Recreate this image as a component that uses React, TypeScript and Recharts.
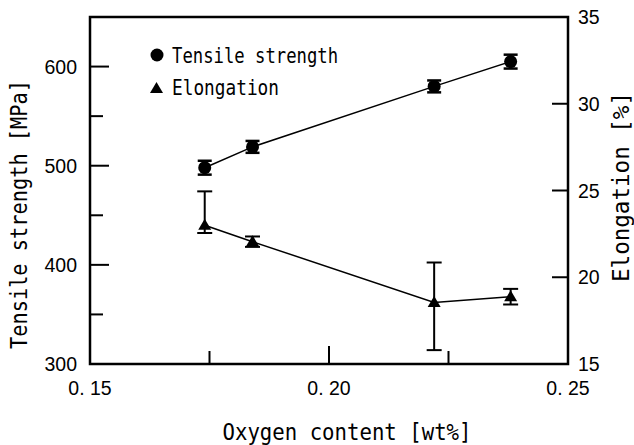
import {
  ComposedChart,
  Line,
  XAxis,
  YAxis,
  ErrorBar,
  ReferenceArea,
  Customized,
} from "recharts";

// ---------------------------------------------------------------------------
// Data
// ---------------------------------------------------------------------------

const oxygen = [0.174, 0.184, 0.222, 0.238];
const tensile = [498, 519, 580, 605];
const tensileErr = [7, 6, 6, 7];
const elongation = [23.0, 22.05, 18.55, 18.88];
const elongationErrLow = [0.45, 0.3, 2.75, 0.45];
const elongationErrHigh = [1.95, 0.3, 2.3, 0.45];

const xTicks = [0.15, 0.175, 0.2, 0.225, 0.25];
const xLabelTicks = [0.15, 0.2, 0.25];
const leftTicks = [300, 350, 400, 450, 500, 550, 600];
const leftLabelTicks = [300, 400, 500, 600];
const rightTicks = [15, 20, 25, 30, 35];
const rightMarkTicks = [20, 25, 30];

const legendLabels = ["Tensile strength", "Elongation"];

const tensileData = oxygen.map((x, i) => ({
  x,
  y: tensile[i],
  err: tensileErr[i],
}));

const elongationData = oxygen.map((x, i) => ({
  x,
  y: elongation[i],
  err: [elongationErrLow[i], elongationErrHigh[i]],
}));

if (typeof document !== "undefined") {
  document.body.style.margin = "0";
}

const INK = "#000";
const NUM_FONT = "'Liberation Sans', Arial, sans-serif";
const TITLE_FONT = "'DejaVu Sans Mono', monospace";

// ---------------------------------------------------------------------------
// Ticks
// ---------------------------------------------------------------------------

const fmtX = (v: number) => v.toFixed(2).replace(".", ". ");

function XTick({ x, y, payload }: any) {
  const v = payload.value as number;
  const labeled = xLabelTicks.some((t) => Math.abs(t - v) < 1e-9);
  const edge = v <= 0.15 + 1e-9 || v >= 0.25 - 1e-9;
  return (
    <g>
      {!edge && (
        <line x1={x} x2={x} y1={y} y2={y - (labeled ? 18 : 13)} stroke={INK} strokeWidth={2} />
      )}
      {labeled && (
        <text x={x} y={y + 31} textAnchor="middle" fontFamily={NUM_FONT} fontSize={19.5} fill={INK}>
          {fmtX(v)}
        </text>
      )}
    </g>
  );
}

function LeftTick({ x, y, payload }: any) {
  const v = payload.value as number;
  const labeled = leftLabelTicks.includes(v);
  return (
    <g>
      {v !== 300 && (
        <line x1={x} x2={x + (labeled ? 19 : 13)} y1={y} y2={y} stroke={INK} strokeWidth={2} />
      )}
      {labeled && (
        <text x={x - 13} y={y + 7} textAnchor="end" fontFamily={NUM_FONT} fontSize={19.5} fill={INK}>
          {v}
        </text>
      )}
    </g>
  );
}

function RightTick({ x, y, payload }: any) {
  const v = payload.value as number;
  return (
    <g>
      {rightMarkTicks.includes(v) && (
        <line x1={x} x2={x - 16} y1={y} y2={y} stroke={INK} strokeWidth={2} />
      )}
      <text x={x + 10} y={y + 7} textAnchor="start" fontFamily={NUM_FONT} fontSize={19.5} fill={INK}>
        {v}
      </text>
    </g>
  );
}

// ---------------------------------------------------------------------------
// Axis titles
// ---------------------------------------------------------------------------

function XTitle({ viewBox }: any) {
  const { x, y, width } = viewBox;
  return (
    <text
      x={x + width / 2 + 18}
      y={y + 76}
      textAnchor="middle"
      fontFamily={TITLE_FONT}
      fontSize={23}
      textLength={249}
      lengthAdjust="spacingAndGlyphs"
      fill={INK}
    >
      Oxygen content [wt%]
    </text>
  );
}

function LeftTitle({ viewBox }: any) {
  const { x, y, height } = viewBox;
  const cx = x + 27;
  const cy = y + height / 2 + 24;
  return (
    <text
      x={cx}
      y={cy}
      transform={`rotate(-90 ${cx} ${cy})`}
      textAnchor="middle"
      fontFamily={TITLE_FONT}
      fontSize={23}
      textLength={269}
      lengthAdjust="spacingAndGlyphs"
      fill={INK}
    >
      Tensile strength [MPa]
    </text>
  );
}

function RightTitle({ viewBox }: any) {
  const { x, y, height } = viewBox;
  const cx = x + 61;
  const cy = y + height / 2 - 3.5;
  return (
    <text
      x={cx}
      y={cy}
      transform={`rotate(-90 ${cx} ${cy})`}
      textAnchor="middle"
      fontFamily={TITLE_FONT}
      fontSize={23}
      textLength={190}
      lengthAdjust="spacingAndGlyphs"
      fill={INK}
    >
      Elongation [%]
    </text>
  );
}

// ---------------------------------------------------------------------------
// Markers + legend
// ---------------------------------------------------------------------------

function CircleDot({ cx, cy }: any) {
  if (cx == null || cy == null) return null;
  return <circle cx={cx} cy={cy} r={6.5} fill={INK} />;
}

function TriangleDot({ cx, cy }: any) {
  if (cx == null || cy == null) return null;
  return (
    <polygon
      points={`${cx},${cy - 6.5} ${cx - 6.5},${cy + 4.5} ${cx + 6.5},${cy + 4.5}`}
      fill={INK}
    />
  );
}

// legend sits inside the plot, top-left
function ChartLegend() {
  const lx = 145;
  const ly = 40;
  return (
    <g className="chart-legend">
      <circle cx={lx + 12} cy={ly + 15} r={6.5} fill={INK} />
      <text
        x={lx + 27}
        y={ly + 23}
        fontFamily={TITLE_FONT}
        fontSize={22}
        textLength={166}
        lengthAdjust="spacingAndGlyphs"
        fill={INK}
      >
        {legendLabels[0]}
      </text>
      <polygon
        points={`${lx + 11.5},${ly + 42} ${lx + 5},${ly + 53} ${lx + 18},${ly + 53}`}
        fill={INK}
      />
      <text
        x={lx + 27}
        y={ly + 55}
        fontFamily={TITLE_FONT}
        fontSize={22}
        textLength={107}
        lengthAdjust="spacingAndGlyphs"
        fill={INK}
      >
        {legendLabels[1]}
      </text>
    </g>
  );
}

// ---------------------------------------------------------------------------
// Chart
// ---------------------------------------------------------------------------

export default function App() {
  return (
    <div style={{ width: 634, height: 445, background: "#fff" }}>
      <ComposedChart
        width={634}
        height={445}
        margin={{ top: 17, right: 0, bottom: 0, left: 0 }}
      >
        <XAxis
          dataKey="x"
          type="number"
          domain={[0.15, 0.25]}
          ticks={xTicks}
          interval={0}
          height={81}
          axisLine={false}
          tickLine={false}
          tickSize={0}
          tickMargin={0}
          tick={<XTick />}
          label={(p: any) => <XTitle {...p} />}
          allowDataOverflow
        />
        <YAxis
          yAxisId="left"
          type="number"
          domain={[300, 650]}
          ticks={leftTicks}
          interval={0}
          width={90}
          axisLine={false}
          tickLine={false}
          tickSize={0}
          tickMargin={0}
          tick={<LeftTick />}
          label={(p: any) => <LeftTitle {...p} />}
          allowDataOverflow
        />
        <YAxis
          yAxisId="right"
          orientation="right"
          type="number"
          domain={[15, 35]}
          ticks={rightTicks}
          interval={0}
          width={66}
          axisLine={false}
          tickLine={false}
          tickSize={0}
          tickMargin={0}
          tick={<RightTick />}
          label={(p: any) => <RightTitle {...p} />}
          allowDataOverflow
        />
        <ReferenceArea
          yAxisId="left"
          x1={0.15}
          x2={0.25}
          y1={300}
          y2={650}
          fill="none"
          stroke={INK}
          strokeWidth={2.5}
          fillOpacity={0}
        />
        <Customized component={<ChartLegend />} />
        <Line
          yAxisId="left"
          data={tensileData}
          dataKey="y"
          stroke={INK}
          strokeWidth={1.5}
          dot={(p: any) => <CircleDot key={`c-${p.index}`} {...p} />}
          activeDot={false}
          isAnimationActive={false}
        >
          <ErrorBar dataKey="err" direction="y" width={7} stroke={INK} strokeWidth={2.5} />
        </Line>
        <Line
          yAxisId="right"
          data={elongationData}
          dataKey="y"
          stroke={INK}
          strokeWidth={1.5}
          dot={(p: any) => <TriangleDot key={`t-${p.index}`} {...p} />}
          activeDot={false}
          isAnimationActive={false}
        >
          <ErrorBar dataKey="err" direction="y" width={7.5} stroke={INK} strokeWidth={2} />
        </Line>
      </ComposedChart>
    </div>
  );
}
